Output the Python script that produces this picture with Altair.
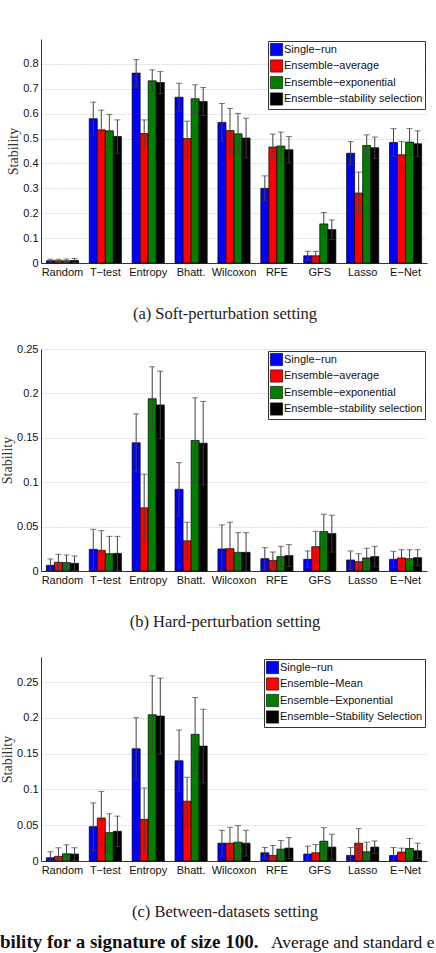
import altair as alt
import pandas as pd

categories = ["Random", "T−test", "Entropy", "Bhatt.", "Wilcoxon", "RFE", "GFS", "Lasso", "E−Net"]
series_ab = ["Single−run", "Ensemble−average", "Ensemble−exponential", "Ensemble−stability selection"]
series_c = ["Single−run", "Ensemble−Mean", "Ensemble−Exponential", "Ensemble−Stability Selection"]
colors = ["#0000FF", "#FF0000", "#007F00", "#000000"]

# (a) Soft-perturbation setting
a_single = [0.009, 0.580, 0.763, 0.666, 0.565, 0.300, 0.029, 0.441, 0.484]
a_single_sd = [0.006, 0.066, 0.054, 0.056, 0.076, 0.050, 0.018, 0.047, 0.056]
a_avg = [0.009, 0.535, 0.520, 0.500, 0.532, 0.466, 0.029, 0.281, 0.435]
a_avg_sd = [0.006, 0.079, 0.055, 0.070, 0.089, 0.052, 0.018, 0.084, 0.053]
a_exp = [0.009, 0.531, 0.732, 0.660, 0.519, 0.470, 0.157, 0.472, 0.486]
a_exp_sd = [0.007, 0.066, 0.044, 0.056, 0.082, 0.056, 0.046, 0.043, 0.054]
a_stab = [0.010, 0.508, 0.725, 0.649, 0.502, 0.455, 0.134, 0.463, 0.479]
a_stab_sd = [0.008, 0.067, 0.044, 0.056, 0.080, 0.053, 0.039, 0.043, 0.052]

# (b) Hard-perturbation setting
b_single = [0.0064, 0.0244, 0.1444, 0.092, 0.0248, 0.0139, 0.0132, 0.0124, 0.0132]
b_single_sd = [0.0071, 0.0226, 0.0326, 0.030, 0.0271, 0.0124, 0.0094, 0.0102, 0.009]
b_avg = [0.0098, 0.0233, 0.0711, 0.034, 0.0252, 0.012, 0.0274, 0.0105, 0.0147]
b_avg_sd = [0.009, 0.0222, 0.0379, 0.021, 0.0297, 0.0094, 0.0173, 0.009, 0.0093]
b_exp = [0.0094, 0.0195, 0.194, 0.147, 0.021, 0.0162, 0.0444, 0.0147, 0.0139]
b_exp_sd = [0.0086, 0.0195, 0.036, 0.048, 0.0222, 0.0116, 0.0195, 0.0109, 0.0101]
b_stab = [0.0086, 0.0199, 0.187, 0.144, 0.021, 0.0173, 0.0421, 0.0162, 0.015]
b_stab_sd = [0.0083, 0.0191, 0.038, 0.047, 0.0222, 0.0124, 0.0207, 0.0116, 0.009]

# (c) Between-datasets setting
c_single = [0.0046, 0.048, 0.1568, 0.140, 0.0249, 0.0115, 0.0097, 0.0078, 0.0078]
c_single_sd = [0.0083, 0.0332, 0.0434, 0.043, 0.018, 0.0074, 0.0111, 0.0111, 0.0111]
c_mean = [0.0065, 0.060, 0.0581, 0.0835, 0.0249, 0.0078, 0.0115, 0.0249, 0.0125]
c_mean_sd = [0.012, 0.0373, 0.0439, 0.0335, 0.0221, 0.0139, 0.0115, 0.0203, 0.0055]
c_exp = [0.0101, 0.0397, 0.2043, 0.177, 0.0263, 0.0166, 0.0277, 0.0129, 0.0175]
c_exp_sd = [0.0125, 0.0263, 0.0545, 0.0513, 0.0231, 0.012, 0.0189, 0.0134, 0.0139]
c_stab = [0.0097, 0.0415, 0.2025, 0.1605, 0.0249, 0.018, 0.0194, 0.0194, 0.0143]
c_stab_sd = [0.0088, 0.0212, 0.053, 0.0515, 0.018, 0.0147, 0.018, 0.0086, 0.0106]

ticks_a = [0, 0.1, 0.2, 0.3, 0.4, 0.5, 0.6, 0.7, 0.8]
ticks_bc = [0, 0.05, 0.1, 0.15, 0.2, 0.25]

captions = ["(a) Soft-perturbation setting", "(b) Hard-perturbation setting", "(c) Between-datasets setting"]
footer_bold = ["bility for a signature of size 100."]
footer_normal = ["Average and standard e"]

SANS = "Liberation Sans"
SERIF = "Liberation Serif"
W = 386


def build_df(series, means, sds):
    rows = []
    for k, (s, ml, sl) in enumerate(zip(series, means, sds)):
        for c, m, sd in zip(categories, ml, sl):
            rows.append({"cat": c, "series": s, "k": k, "mean": m,
                         "lo": max(m - sd, 0.0), "hi": m + sd})
    return pd.DataFrame(rows)


def panel(df, series, ymax, yticks, height, caption):
    xenc = alt.X("cat:N", sort=categories,
                 scale=alt.Scale(paddingInner=0.25, paddingOuter=0.125),
                 axis=alt.Axis(title=None, labelAngle=0, ticks=False, grid=False,
                               domainColor="#333", labelFont=SANS, labelFontSize=11,
                               labelColor="#111", labelPadding=3))
    xoff = alt.XOffset("k:O", scale=alt.Scale(domain=[0, 1, 2, 3], paddingInner=0, paddingOuter=0))
    yscale = alt.Scale(domain=[0, ymax], nice=False, zero=True)
    yaxis = alt.Axis(values=yticks, format=".2~f", title="Stability", grid=True,
                     gridDash=[1, 2], gridColor="#bdbdbd", ticks=False,
                     domainColor="#333", labelFont=SANS, labelFontSize=11,
                     labelColor="#111", labelPadding=3, titleFont=SERIF,
                     titleFontSize=14, titleFontWeight="normal", titleColor="#333",
                     titlePadding=2)
    bars = alt.Chart(df).mark_bar(stroke="black", strokeWidth=0.7).encode(
        x=xenc, xOffset=xoff,
        y=alt.Y("mean:Q", scale=yscale, axis=yaxis),
        color=alt.Color("series:N", sort=series,
                        scale=alt.Scale(domain=series, range=colors),
                        legend=alt.Legend(title=None, orient="top-right", offset=2,
                                          symbolType="square", symbolSize=150,
                                          symbolStrokeColor="black", symbolStrokeWidth=0.6,
                                          labelFont=SANS, labelFontSize=11, labelColor="#111",
                                          strokeColor="#333", fillColor="white",
                                          padding=2, rowPadding=1.5, labelOffset=1,
                                          cornerRadius=0)))
    rules = alt.Chart(df).mark_rule(color="#404040", strokeWidth=1).encode(
        x=xenc, xOffset=xoff,
        y=alt.Y("lo:Q", scale=yscale, axis=yaxis), y2="hi:Q")
    cap_hi = alt.Chart(df).mark_tick(color="#404040", thickness=1, size=6).encode(
        x=xenc, xOffset=xoff, y=alt.Y("hi:Q", scale=yscale, axis=yaxis))
    cap_lo = alt.Chart(df).mark_tick(color="#404040", thickness=1, size=6).encode(
        x=xenc, xOffset=xoff, y=alt.Y("lo:Q", scale=yscale, axis=yaxis))
    return alt.layer(bars, rules, cap_hi, cap_lo).properties(
        width=W, height=height,
        title=alt.TitleParams(caption, orient="bottom", anchor="middle", dx=-9, offset=29,
                              font=SERIF, fontSize=16.5, fontWeight="normal", color="#222"))


df_a = build_df(series_ab, [a_single, a_avg, a_exp, a_stab], [a_single_sd, a_avg_sd, a_exp_sd, a_stab_sd])
df_b = build_df(series_ab, [b_single, b_avg, b_exp, b_stab], [b_single_sd, b_avg_sd, b_exp_sd, b_stab_sd])
df_c = build_df(series_c, [c_single, c_mean, c_exp, c_stab], [c_single_sd, c_mean_sd, c_exp_sd, c_stab_sd])

pa = panel(df_a, series_ab, 0.9, ticks_a, 224, captions[0])
pb = panel(df_b, series_ab, 0.25, ticks_bc, 222, captions[1])
pc = panel(df_c, series_c, 0.285, ticks_bc, 204, captions[2])

foot = alt.layer(
    alt.Chart(pd.DataFrame({"t": footer_bold})).mark_text(
        align="left", baseline="alphabetic", font=SERIF, fontWeight="bold",
        fontSize=19, color="#111").encode(text="t:N", x=alt.value(-41), y=alt.value(1)),
    alt.Chart(pd.DataFrame({"t": footer_normal})).mark_text(
        align="left", baseline="alphabetic", font=SERIF, fontWeight="normal",
        fontSize=17.5, color="#111").encode(text="t:N", x=alt.value(230), y=alt.value(1)),
).properties(width=W, height=1)

chart = alt.vconcat(pa, pb, pc, foot, spacing=86, bounds="flush").resolve_scale(
    color="independent", y="independent", x="independent", xOffset="independent"
).properties(
    padding={"left": 0, "top": 39, "right": 0, "bottom": 0}, background="white"
).configure_view(strokeWidth=0)

chart.save("out.html", embed_options={"renderer": "svg", "actions": False})
